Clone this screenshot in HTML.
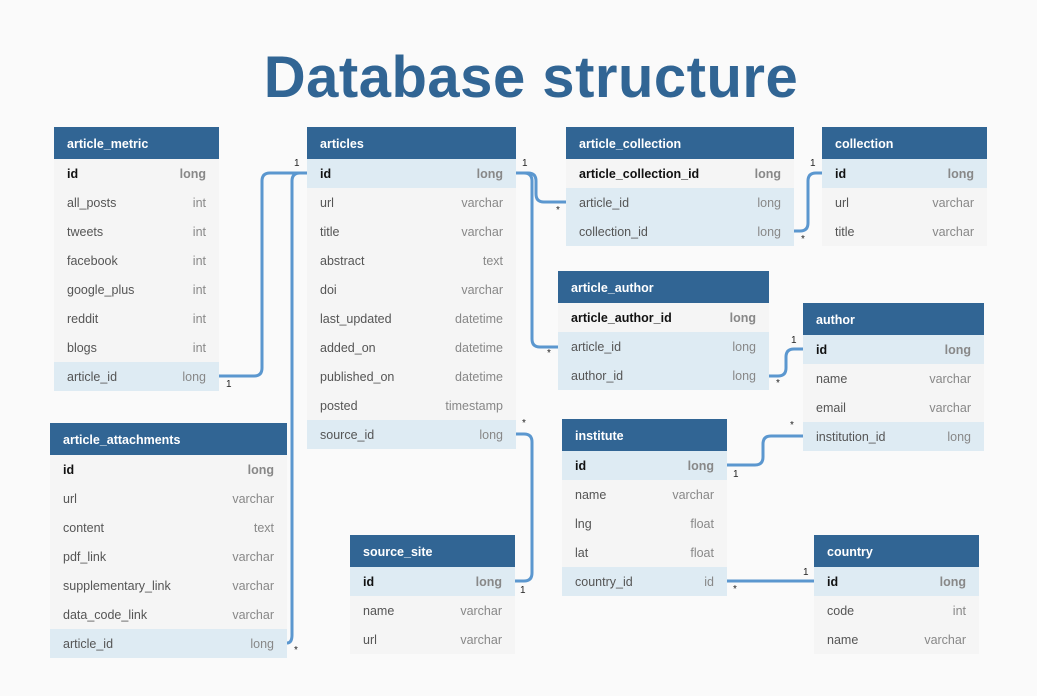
<!DOCTYPE html>
<html><head><meta charset="utf-8"><style>
body{margin:0;width:1037px;height:696px;background:#fafafa;position:relative;overflow:hidden;font-family:"Liberation Sans",Arial,sans-serif}
h1{position:absolute;left:0;width:1062px;top:44px;margin:0;text-align:center;font-size:58px;font-weight:bold;color:#316594;letter-spacing:0.5px}
.t{position:absolute;background:#f5f5f5}
.h{height:32px;background:#316594;color:#fff;font-weight:bold;font-size:12.5px;line-height:34px;padding-left:13px}
.r{height:29px;line-height:30px;font-size:12.5px;color:#555;padding:0 13px;display:flex;justify-content:space-between}
.r span:last-child{color:#888}
.r.hl{background:#deebf3}
.r.b span:first-child{color:#111;font-weight:bold}
.r.b span:last-child{font-weight:bold}
svg{position:absolute;left:0;top:0}
.lb{position:absolute;font-size:10px;color:#222}
</style></head><body>
<h1>Database structure</h1>
<svg width="1037" height="696"><g fill="none" stroke="#5b97cf" stroke-width="3" stroke-linejoin="round">
<path d="M219,376 H254 Q262,376 262,368 V181 Q262,173 270,173 H307"/>
<path d="M287,643 Q292,643 292,635 V181 Q292,173 300,173 H307"/>
<path d="M516,173 H528 Q536,173 536,181 V194 Q536,202 544,202 H566"/>
<path d="M516,173 H524 Q532,173 532,181 V339 Q532,347 540,347 H558"/>
<path d="M794,231 H800 Q808,231 808,223 V181 Q808,173 816,173 H822"/>
<path d="M769,376 H778 Q786,376 786,368 V357 Q786,349 794,349 H803"/>
<path d="M727,465 H755 Q763,465 763,457 V444 Q763,436 771,436 H803"/>
<path d="M727,581 H814"/>
<path d="M516,434 H524 Q532,434 532,442 V573 Q532,581 524,581 H515"/>
</g></svg>
<div class="lb" style="left:294px;top:158px">1</div>
<div class="lb" style="left:226px;top:379px">1</div>
<div class="lb" style="left:294px;top:645px">*</div>
<div class="lb" style="left:522px;top:158px">1</div>
<div class="lb" style="left:556px;top:205px">*</div>
<div class="lb" style="left:547px;top:348px">*</div>
<div class="lb" style="left:810px;top:158px">1</div>
<div class="lb" style="left:801px;top:234px">*</div>
<div class="lb" style="left:791px;top:335px">1</div>
<div class="lb" style="left:776px;top:378px">*</div>
<div class="lb" style="left:790px;top:420px">*</div>
<div class="lb" style="left:733px;top:469px">1</div>
<div class="lb" style="left:803px;top:567px">1</div>
<div class="lb" style="left:733px;top:584px">*</div>
<div class="lb" style="left:522px;top:418px">*</div>
<div class="lb" style="left:520px;top:585px">1</div>

<div class="t" style="left:54px;top:127px;width:165px"><div class="h">article_metric</div>
<div class="r b"><span>id</span><span>long</span></div>
<div class="r"><span>all_posts</span><span>int</span></div>
<div class="r"><span>tweets</span><span>int</span></div>
<div class="r"><span>facebook</span><span>int</span></div>
<div class="r"><span>google_plus</span><span>int</span></div>
<div class="r"><span>reddit</span><span>int</span></div>
<div class="r"><span>blogs</span><span>int</span></div>
<div class="r hl"><span>article_id</span><span>long</span></div></div>

<div class="t" style="left:307px;top:127px;width:209px"><div class="h">articles</div>
<div class="r hl b"><span>id</span><span>long</span></div>
<div class="r"><span>url</span><span>varchar</span></div>
<div class="r"><span>title</span><span>varchar</span></div>
<div class="r"><span>abstract</span><span>text</span></div>
<div class="r"><span>doi</span><span>varchar</span></div>
<div class="r"><span>last_updated</span><span>datetime</span></div>
<div class="r"><span>added_on</span><span>datetime</span></div>
<div class="r"><span>published_on</span><span>datetime</span></div>
<div class="r"><span>posted</span><span>timestamp</span></div>
<div class="r hl"><span>source_id</span><span>long</span></div></div>

<div class="t" style="left:566px;top:127px;width:228px"><div class="h">article_collection</div>
<div class="r b"><span>article_collection_id</span><span>long</span></div>
<div class="r hl"><span>article_id</span><span>long</span></div>
<div class="r hl"><span>collection_id</span><span>long</span></div></div>

<div class="t" style="left:822px;top:127px;width:165px"><div class="h">collection</div>
<div class="r hl b"><span>id</span><span>long</span></div>
<div class="r"><span>url</span><span>varchar</span></div>
<div class="r"><span>title</span><span>varchar</span></div></div>

<div class="t" style="left:558px;top:271px;width:211px"><div class="h">article_author</div>
<div class="r b"><span>article_author_id</span><span>long</span></div>
<div class="r hl"><span>article_id</span><span>long</span></div>
<div class="r hl"><span>author_id</span><span>long</span></div></div>

<div class="t" style="left:803px;top:303px;width:181px"><div class="h">author</div>
<div class="r hl b"><span>id</span><span>long</span></div>
<div class="r"><span>name</span><span>varchar</span></div>
<div class="r"><span>email</span><span>varchar</span></div>
<div class="r hl"><span>institution_id</span><span>long</span></div></div>

<div class="t" style="left:50px;top:423px;width:237px"><div class="h">article_attachments</div>
<div class="r b"><span>id</span><span>long</span></div>
<div class="r"><span>url</span><span>varchar</span></div>
<div class="r"><span>content</span><span>text</span></div>
<div class="r"><span>pdf_link</span><span>varchar</span></div>
<div class="r"><span>supplementary_link</span><span>varchar</span></div>
<div class="r"><span>data_code_link</span><span>varchar</span></div>
<div class="r hl"><span>article_id</span><span>long</span></div></div>

<div class="t" style="left:562px;top:419px;width:165px"><div class="h">institute</div>
<div class="r hl b"><span>id</span><span>long</span></div>
<div class="r"><span>name</span><span>varchar</span></div>
<div class="r"><span>lng</span><span>float</span></div>
<div class="r"><span>lat</span><span>float</span></div>
<div class="r hl"><span>country_id</span><span>id</span></div></div>

<div class="t" style="left:350px;top:535px;width:165px"><div class="h">source_site</div>
<div class="r hl b"><span>id</span><span>long</span></div>
<div class="r"><span>name</span><span>varchar</span></div>
<div class="r"><span>url</span><span>varchar</span></div></div>

<div class="t" style="left:814px;top:535px;width:165px"><div class="h">country</div>
<div class="r hl b"><span>id</span><span>long</span></div>
<div class="r"><span>code</span><span>int</span></div>
<div class="r"><span>name</span><span>varchar</span></div></div>
</body></html>
